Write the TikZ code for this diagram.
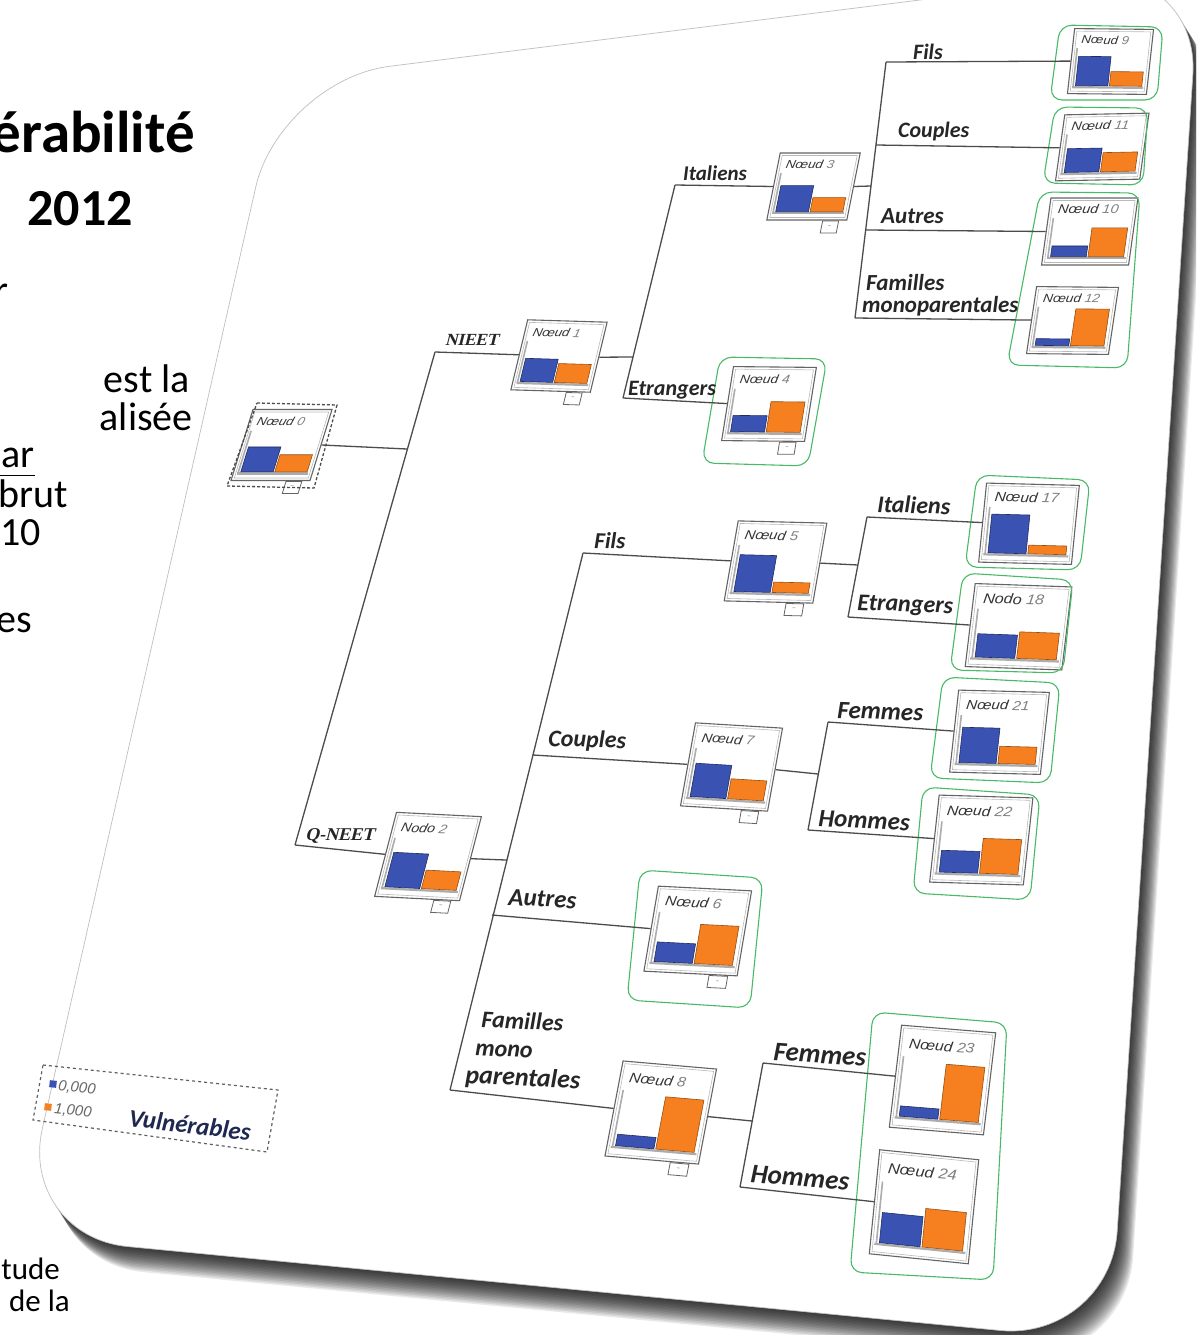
\documentclass[tikz,border=0pt]{standalone}
\usepackage{fontspec}
\setmainfont{Carlito}
\newfontfamily\boxfont{Liberation Sans}
\newfontfamily\splitfont{Liberation Serif}
\definecolor{barblue}{RGB}{58,82,178}
\definecolor{barorange}{RGB}{246,128,32}
\definecolor{fitgreen}{RGB}{72,186,102}
\definecolor{framegray}{RGB}{100,100,100}
\definecolor{legendnavy}{RGB}{30,40,80}
\tikzset{
  box w/.store in=\boxw, box h/.store in=\boxh,
  collapse/.code={\def\hascollapse{1}},
  chartframe/.style={draw=framegray, line width=1.1pt, fill=white, inner sep=0pt, transform shape},
  branch/.style={draw=black!70, line width=1.3pt},
  fitline/.style={draw=fitgreen, line width=1.1pt, rounded corners=12pt},
  lbl/.style={font=\fontsize{#1}{#1}\selectfont\bfseries\itshape, text=black!85, inner sep=0pt, anchor=base west},
  splitlbl/.style={font=\fontsize{#1}{#1}\selectfont\splitfont\bfseries, text=black!85, inner sep=0pt, anchor=base west, xslant=0.25},
  slidetext/.style={font=\fontsize{#1}{#1}\selectfont, inner sep=0pt, anchor=base east},
}
\def\cardpath{(280,80) [rounded corners=110pt] -- (18,1236) -- (1110,1341) -- (1200,-35) -- cycle}
\newcommand\chartbox[6]{% name, placement, word, number, blue, orange
  \def\hascollapse{0}%
  \begin{scope}[#2]
    \pgfmathsetmacro\hw{\boxw/2}
    \pgfmathsetmacro\hh{\boxh/2}
    \pgfmathsetmacro\fy{\hh-0.1*\boxh}
    \pgfmathsetmacro\tsz{0.145*\boxw}
    \node[chartframe, minimum width={\boxw*1pt}, minimum height={\boxh*1pt}] (#1) at (0,0) {};
    \draw[gray!55, line width=0.6pt] (-\hw+2.5,-\hh+2.5) rectangle (\hw-2.5,\hh-2.5);
    \draw[gray!65, line width=2.2pt] (-\hw+4,\fy) -- (\hw-4,\fy);
    \draw[gray!65, line width=1.6pt] ({-\hw+0.06*\boxw},{-0.2*\boxh}) -- ({-\hw+0.06*\boxw},\fy);
    \filldraw[fill=barblue, draw=barblue!55!black, line width=0.6pt]
      ({-\hw+0.09*\boxw},\fy-1.6) rectangle ({-\hw+0.5*\boxw},{\fy-1.6-#5*\boxh});
    \filldraw[fill=barorange, draw=barorange!60!black, line width=0.6pt]
      ({-\hw+0.52*\boxw},\fy-1.6) rectangle ({-\hw+0.93*\boxw},{\fy-1.6-#6*\boxh});
    \node[transform shape, anchor=west, inner sep=0pt, xscale=1.15,
      font=\fontsize{\tsz}{\tsz}\selectfont\boxfont\itshape] (#1-t)
      at ({-\hw+0.1*\boxw},{-\hh+0.17*\boxh}) {\textcolor{black!80}{#3}\ \textcolor{gray}{#4}};
    \ifnum\hascollapse=1
      \node[transform shape, draw=framegray, fill=white, line width=0.8pt, inner sep=0pt,
        minimum width={0.2*\boxw*1pt}, minimum height=12pt, anchor=north,
        font=\fontsize{8}{8}\selectfont, text=gray] (#1-c) at ({\hw-0.2*\boxw},\hh+0.6) {--};
    \fi
  \end{scope}}
\begin{document}
\begin{tikzpicture}[x=1pt, y=-1pt]
\useasboundingbox (0,0) rectangle (1196,1335);
\clip (0,0) rectangle (1196,1335);

% card with its shadow
\foreach \k in {1,...,16}
  \fill[black, opacity=0.085, shift={(1.0*\k,1.6*\k)}] \cardpath;
\filldraw[fill=white, draw=gray!50, line width=0.7pt] \cardpath;

% slide text cut by the card
\node[slidetext=59] (tt1) at (195,152) {\bfseries érabilité};
\node[slidetext=52] (tt2) at (133,225) {\bfseries 2012};
\node[slidetext=40] (s1) at (9,303) {r};
\node[slidetext=40] (s2) at (190,392) {est la};
\node[slidetext=40] (s3) at (193,430) {alisée};
\node[slidetext=40] (s4) at (35,467) {\underline{par}};
\node[slidetext=40] (s5) at (68,507) {brut};
\node[slidetext=40] (s6) at (41,545) {10};
\node[slidetext=40] (s7) at (32,632) {es};
\node[slidetext=31] (s8) at (60,1279) {tude};
\node[slidetext=31] (s9) at (70,1311) {de la};

% nodes of the tree
\chartbox{n0}{shift={(281.5,445)}, xslant=0.31, box w=79, box h=71, collapse}{Nœud}{0}{0.35}{0.24}
\chartbox{n1}{shift={(559,356)}, xslant=0.24, yslant=-0.03, box w=80, box h=70, collapse}{Nœud}{1}{0.33}{0.27}
\chartbox{n2}{shift={(428,856.5)}, xslant=0.26, yslant=-0.05, box w=86, box h=84, collapse}{Nodo}{2}{0.41}{0.22}
\chartbox{n3}{shift={(813.5,186.5)}, xslant=0.2, box w=80, box h=67, collapse}{Nœud}{3}{0.39}{0.21}
\chartbox{n4}{shift={(769,404)}, xslant=0.16, yslant=-0.01, box w=83, box h=74, collapse}{Nœud}{4}{0.22}{0.41}
\chartbox{n5}{shift={(775.5,562)}, xslant=0.175, yslant=-0.025, box w=89, box h=80, collapse}{Nœud}{5}{0.46}{0.13}
\chartbox{n6}{shift={(697.75,931)}, xslant=0.17, yslant=-0.05, box w=94, box h=85, collapse}{Nœud}{6}{0.23}{0.46}
\chartbox{n7}{shift={(731.5,767)}, xslant=0.18, yslant=-0.06, box w=88, box h=83, collapse}{Nœud}{7}{0.40}{0.24}
\chartbox{n8}{shift={(660.75,1112.5)}, xslant=0.19, yslant=-0.085, box w=95, box h=95, collapse}{Nœud}{8}{0.12}{0.55}
\chartbox{n9}{shift={(1110.5,61.5)}, xslant=0.11, yslant=-0.01, box w=79, box h=65}{Nœud}{9}{0.45}{0.22}
\chartbox{n10}{shift={(1089.75,231.5)}, xslant=0.14, box w=87, box h=67}{Nœud}{10}{0.16}{0.43}
\chartbox{n11}{shift={(1102.25,147)}, xslant=0.14, yslant=0.02, box w=84, box h=66}{Nœud}{11}{0.36}{0.29}
\chartbox{n12}{shift={(1072.5,320.5)}, xslant=0.15, yslant=-0.01, box w=82, box h=67}{Nœud}{12}{0.10}{0.55}
\chartbox{n17}{shift={(1029,523.75)}, xslant=0.1, yslant=-0.025, box w=93, box h=79}{Nœud}{17}{0.49}{0.11}
\chartbox{n18}{shift={(1018.5,626.75)}, xslant=0.12, yslant=-0.035, box w=97, box h=83}{Nodo}{18}{0.28}{0.32}
\chartbox{n21}{shift={(999.5,732.25)}, xslant=0.11, yslant=-0.025, box w=91, box h=82}{Nœud}{21}{0.43}{0.21}
\chartbox{n22}{shift={(981.25,840)}, xslant=0.11, yslant=-0.03, box w=94, box h=87}{Nœud}{22}{0.25}{0.40}
\chartbox{n23}{shift={(942.5,1080)}, xslant=0.12, yslant=-0.08, box w=95, box h=102}{Nœud}{23}{0.10}{0.54}
\chartbox{n24}{shift={(924,1206.75)}, xslant=0.1, yslant=-0.1, box w=100, box h=104}{Nœud}{24}{0.29}{0.37}

% outlines
\draw[densely dashed, black!70, line width=1.3pt] (257,403) -- (337,405) -- (314,488) -- (227,486) -- cycle;
\draw[fitline] (720,357) -- (827,359) -- (808,466) -- (702,463) -- cycle;
\draw[fitline] (1060,25) -- (1163,27) -- (1157,100) -- (1050,100) -- cycle;
\draw[fitline] (1055,107) -- (1148,108) -- (1143,185) -- (1043,183) -- cycle;
\draw[fitline] (1040,192) -- (1140,193) -- (1127,368) -- (1007,365) -- cycle;
\draw[fitline] (977,475) -- (1090,480) -- (1080,570) -- (965,567) -- cycle;
\draw[fitline] (963,573) -- (1073,580) -- (1063,673) -- (950,670) -- cycle;
\draw[fitline] (943,677) -- (1060,683) -- (1050,783) -- (930,778) -- cycle;
\draw[fitline] (923,787) -- (1040,795) -- (1030,900) -- (913,893) -- cycle;
\draw[fitline] (640,870) -- (763,878) -- (750,1008) -- (627,1000) -- cycle;
\draw[fitline] (873,1012) -- (1007,1023) -- (993,1280) -- (850,1272) -- cycle;

% links
\coordinate (j0) at (407,449);
\coordinate (b0t) at (435,352);
\coordinate (b0b) at (295,845);
\draw[branch] (n0.east) -- (j0) (b0t) -- (b0b) (b0t) -- (n1.west) (b0b) -- (n2.west);
\coordinate (j1) at (633,357);
\coordinate (b1t) at (675,185);
\coordinate (b1b) at (623,398);
\draw[branch] (n1.east) -- (j1) (b1t) -- (b1b) (b1t) -- (n3.west) (b1b) -- (n4.west);
\coordinate (j3) at (871,186);
\coordinate (b3t) at (886,62);
\coordinate (b3c) at (876,145);
\coordinate (b3d) at (866,230);
\coordinate (b3b) at (855,318);
\draw[branch] (n3.east) -- (j3) (b3t) -- (b3b) (b3t) -- (n9.west) (b3c) -- (n11.west)
  (b3d) -- (n10.west) (b3b) -- (n12.west);
\coordinate (j2) at (506,860);
\coordinate (b2t) at (583,553);
\coordinate (b2c) at (533,755);
\coordinate (b2d) at (492,915);
\coordinate (b2b) at (450,1090);
\draw[branch] (n2.east) -- (j2) (b2t) -- (b2b) (b2t) -- (n5.west) (b2c) -- (n7.west)
  (b2d) -- (n6.west) (b2b) -- (n8.west);
\coordinate (j5) at (858,565);
\coordinate (b5t) at (867,517);
\coordinate (b5b) at (848,617);
\draw[branch] (n5.east) -- (j5) (b5t) -- (b5b) (b5t) -- (n17.west) (b5b) -- (n18.west);
\coordinate (j7) at (818,774);
\coordinate (b7t) at (828,722);
\coordinate (b7b) at (808,830);
\draw[branch] (n7.east) -- (j7) (b7t) -- (b7b) (b7t) -- (n21.west) (b7b) -- (n22.west);
\coordinate (j8) at (752,1121);
\coordinate (b8t) at (763,1063);
\coordinate (b8b) at (740,1187);
\draw[branch] (n8.east) -- (j8) (b8t) -- (b8b) (b8t) -- (n23.west) (b8b) -- (n24.west);

% branch labels
\node[splitlbl=17] (l-nieet) at (445,345) {NIEET};
\node[splitlbl=18] (l-qneet) at (305,840) {Q-NEET};
\node[lbl=21] (l-ita1) at (683,180) {Italiens};
\node[lbl=22] (l-etr1) at (628,395) {Etrangers};
\node[lbl=22] (l-fil1) at (913,60) {Fils};
\node[lbl=22] (l-cou1) at (898,137) {Couples};
\node[lbl=23] (l-aut1) at (881,223) {Autres};
\node[lbl=23] (l-fam1) at (866,290) {Familles};
\node[lbl=23] (l-mon1) at (862,312) {monoparentales};
\node[lbl=24, rotate=-2] (l-ita2) at (877,512) {Italiens};
\node[lbl=24, rotate=-2] (l-etr2) at (857,610) {Etrangers};
\node[lbl=23, rotate=-2] (l-fil2) at (594,548) {Fils};
\node[lbl=24, rotate=-2] (l-cou2) at (548,746) {Couples};
\node[lbl=25, rotate=-2] (l-fem2) at (837,718) {Femmes};
\node[lbl=25, rotate=-3] (l-hom2) at (818,826) {Hommes};
\node[lbl=25, rotate=-3] (l-aut2) at (508,905) {Autres};
\node[lbl=24, rotate=-3] (l-fam2) at (481,1027) {Familles};
\node[lbl=24, rotate=-3] (l-mon2) at (475,1055) {mono};
\node[lbl=26, rotate=-3] (l-par2) at (465,1083) {parentales};
\node[lbl=27, rotate=-4] (l-fem3) at (773,1060) {Femmes};
\node[lbl=27, rotate=-5] (l-hom3) at (750,1182) {Hommes};

% legend
\draw[dashed, gray!75!black, line width=1.2pt] (43,1065) -- (278,1090) -- (267,1152) -- (33,1120) -- cycle;
\node[fill=barblue, minimum size=7pt, inner sep=0pt, rotate=-6] (k0) at (53,1084) {};
\node[fill=barorange, minimum size=7pt, inner sep=0pt, rotate=-6] (k1) at (48,1107) {};
\node[font=\fontsize{15}{15}\selectfont\boxfont\itshape, text=gray!80!black, anchor=west, inner sep=0pt, rotate=-6] (k0t) at (58,1086) {0,000};
\node[font=\fontsize{15}{15}\selectfont\boxfont\itshape, text=gray!80!black, anchor=west, inner sep=0pt, rotate=-6] (k1t) at (54,1109) {1,000};
\node[font=\fontsize{25}{25}\selectfont\bfseries\itshape, text=legendnavy, anchor=base west, inner sep=0pt, rotate=-7] (k2) at (128,1126) {Vulnérables};
\end{tikzpicture}
\end{document}
